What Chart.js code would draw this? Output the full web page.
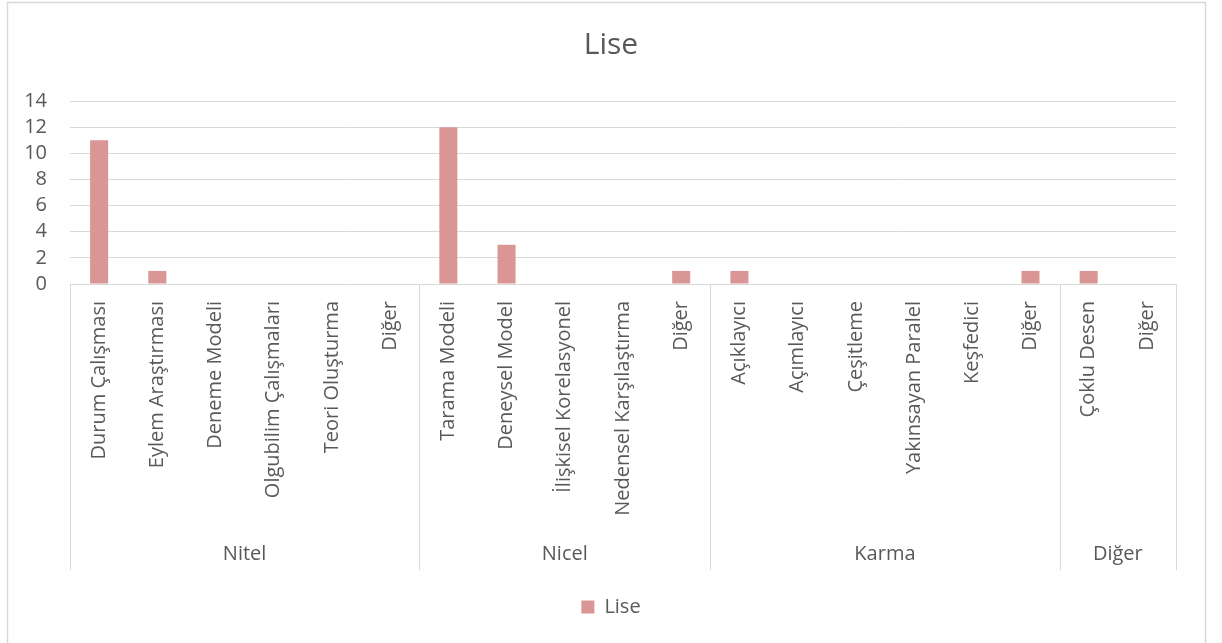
<!DOCTYPE html>
<html lang="tr">
<head>
<meta charset="utf-8">
<title>Lise</title>
<script src="https://cdn.jsdelivr.net/npm/chart.js@4.4.0/dist/chart.umd.min.js"></script>
<style>
  html, body { margin: 0; padding: 0; background: #fff; }
  #wrap { width: 1222px; height: 643px; position: relative; }
</style>
</head>
<body>
<div id="wrap"><canvas id="liseChart" width="1222" height="643"></canvas></div>
<script>
// Research designs, grouped by approach
const categories = [
  "Durum Çalışması", "Eylem Araştırması", "Deneme Modeli", "Olgubilim Çalışmaları", "Teori Oluşturma", "Diğer",
  "Tarama Modeli", "Deneysel Model", "İlişkisel Korelasyonel", "Nedensel Karşılaştırma", "Diğer",
  "Açıklayıcı", "Açımlayıcı", "Çeşitleme", "Yakınsayan Paralel", "Keşfedici", "Diğer",
  "Çoklu Desen", "Diğer"
];
const groupNames = ["Nitel", "Nicel", "Karma", "Diğer"];
const groupSizes = [6, 5, 6, 2];
const liseValues = [11, 1, 0, 0, 0, 0, 12, 3, 0, 0, 1, 1, 0, 0, 0, 0, 1, 1, 0];
const yTicks = [0, 2, 4, 6, 8, 10, 12, 14];

const textColor = "#595959";
const lineColor = "#D9D9D9";
const barColor = "#D99694";
const fontFamily = "'Open Sans', 'Noto Sans', sans-serif";

// Outer frame, group separators and group names under the rotated labels
const groupAxisPlugin = {
  id: "groupAxis",
  beforeDraw(chart) {
    const ctx = chart.ctx;
    ctx.save();
    ctx.strokeStyle = lineColor;
    ctx.lineWidth = 1.5;
    ctx.strokeRect(7.5, 2.5, 1198, 660);
    ctx.restore();
  },
  afterDraw(chart) {
    const ctx = chart.ctx;
    const x = chart.scales.x;
    const top = chart.chartArea.bottom;
    const bottom = top + 286;
    ctx.save();
    ctx.strokeStyle = lineColor;
    ctx.lineWidth = 1;
    let start = 0;
    const edges = [x.getPixelForValue(-0.5)];
    groupSizes.forEach((size, i) => {
      const left = x.getPixelForValue(start - 0.5);
      const right = x.getPixelForValue(start + size - 0.5);
      edges.push(right);
      ctx.fillStyle = textColor;
      ctx.font = "20px " + fontFamily;
      ctx.textAlign = "center";
      ctx.textBaseline = "middle";
      ctx.fillText(groupNames[i], (left + right) / 2, top + 270);
      start += size;
    });
    edges.forEach((px) => {
      const p = Math.round(px) + 0.5;
      ctx.beginPath();
      ctx.moveTo(p, top);
      ctx.lineTo(p, bottom);
      ctx.stroke();
    });
    ctx.restore();
  }
};

new Chart(document.getElementById("liseChart"), {
  type: "bar",
  data: {
    labels: categories,
    datasets: [{
      label: "Lise",
      data: liseValues,
      backgroundColor: barColor,
      borderWidth: 0,
      barPercentage: 0.31,
      categoryPercentage: 1
    }]
  },
  options: {
    responsive: false,
    animation: false,
    layout: { padding: { left: 20, right: 20, top: 0, bottom: 16 } },
    plugins: {
      title: {
        display: true,
        text: "Lise",
        color: textColor,
        font: { family: fontFamily, size: 30, weight: "normal" },
        padding: { top: 27, bottom: 38 }
      },
      legend: {
        display: true,
        position: "bottom",
        labels: {
          color: textColor,
          font: { family: fontFamily, size: 20 },
          boxWidth: 13,
          boxHeight: 13,
          padding: 27
        }
      },
      tooltip: { enabled: false }
    },
    scales: {
      x: {
        grid: { display: false },
        border: { display: true, color: lineColor, width: 1 },
        ticks: {
          color: textColor,
          font: { family: fontFamily, size: 20 },
          minRotation: 90,
          maxRotation: 90,
          autoSkip: false,
          padding: 9
        },
        afterFit(scale) {
          scale.height = 286;
        }
      },
      y: {
        min: 0,
        max: 14,
        afterBuildTicks(scale) {
          scale.ticks = yTicks.map((v) => ({ value: v }));
        },
        grid: { color: lineColor, lineWidth: 1, drawTicks: false },
        border: { display: false },
        ticks: {
          color: textColor,
          font: { family: fontFamily, size: 20 },
          padding: 23,
          autoSkip: false
        },
        afterFit(scale) {
          scale.width = 50;
        }
      },
      // empty right-hand spacer so the plot ends short of the frame
      yRight: {
        position: "right",
        grid: { display: false },
        border: { display: false },
        ticks: { display: false },
        afterFit(scale) {
          scale.width = 26;
        }
      }
    }
  },
  plugins: [groupAxisPlugin]
});
</script>
</body>
</html>
